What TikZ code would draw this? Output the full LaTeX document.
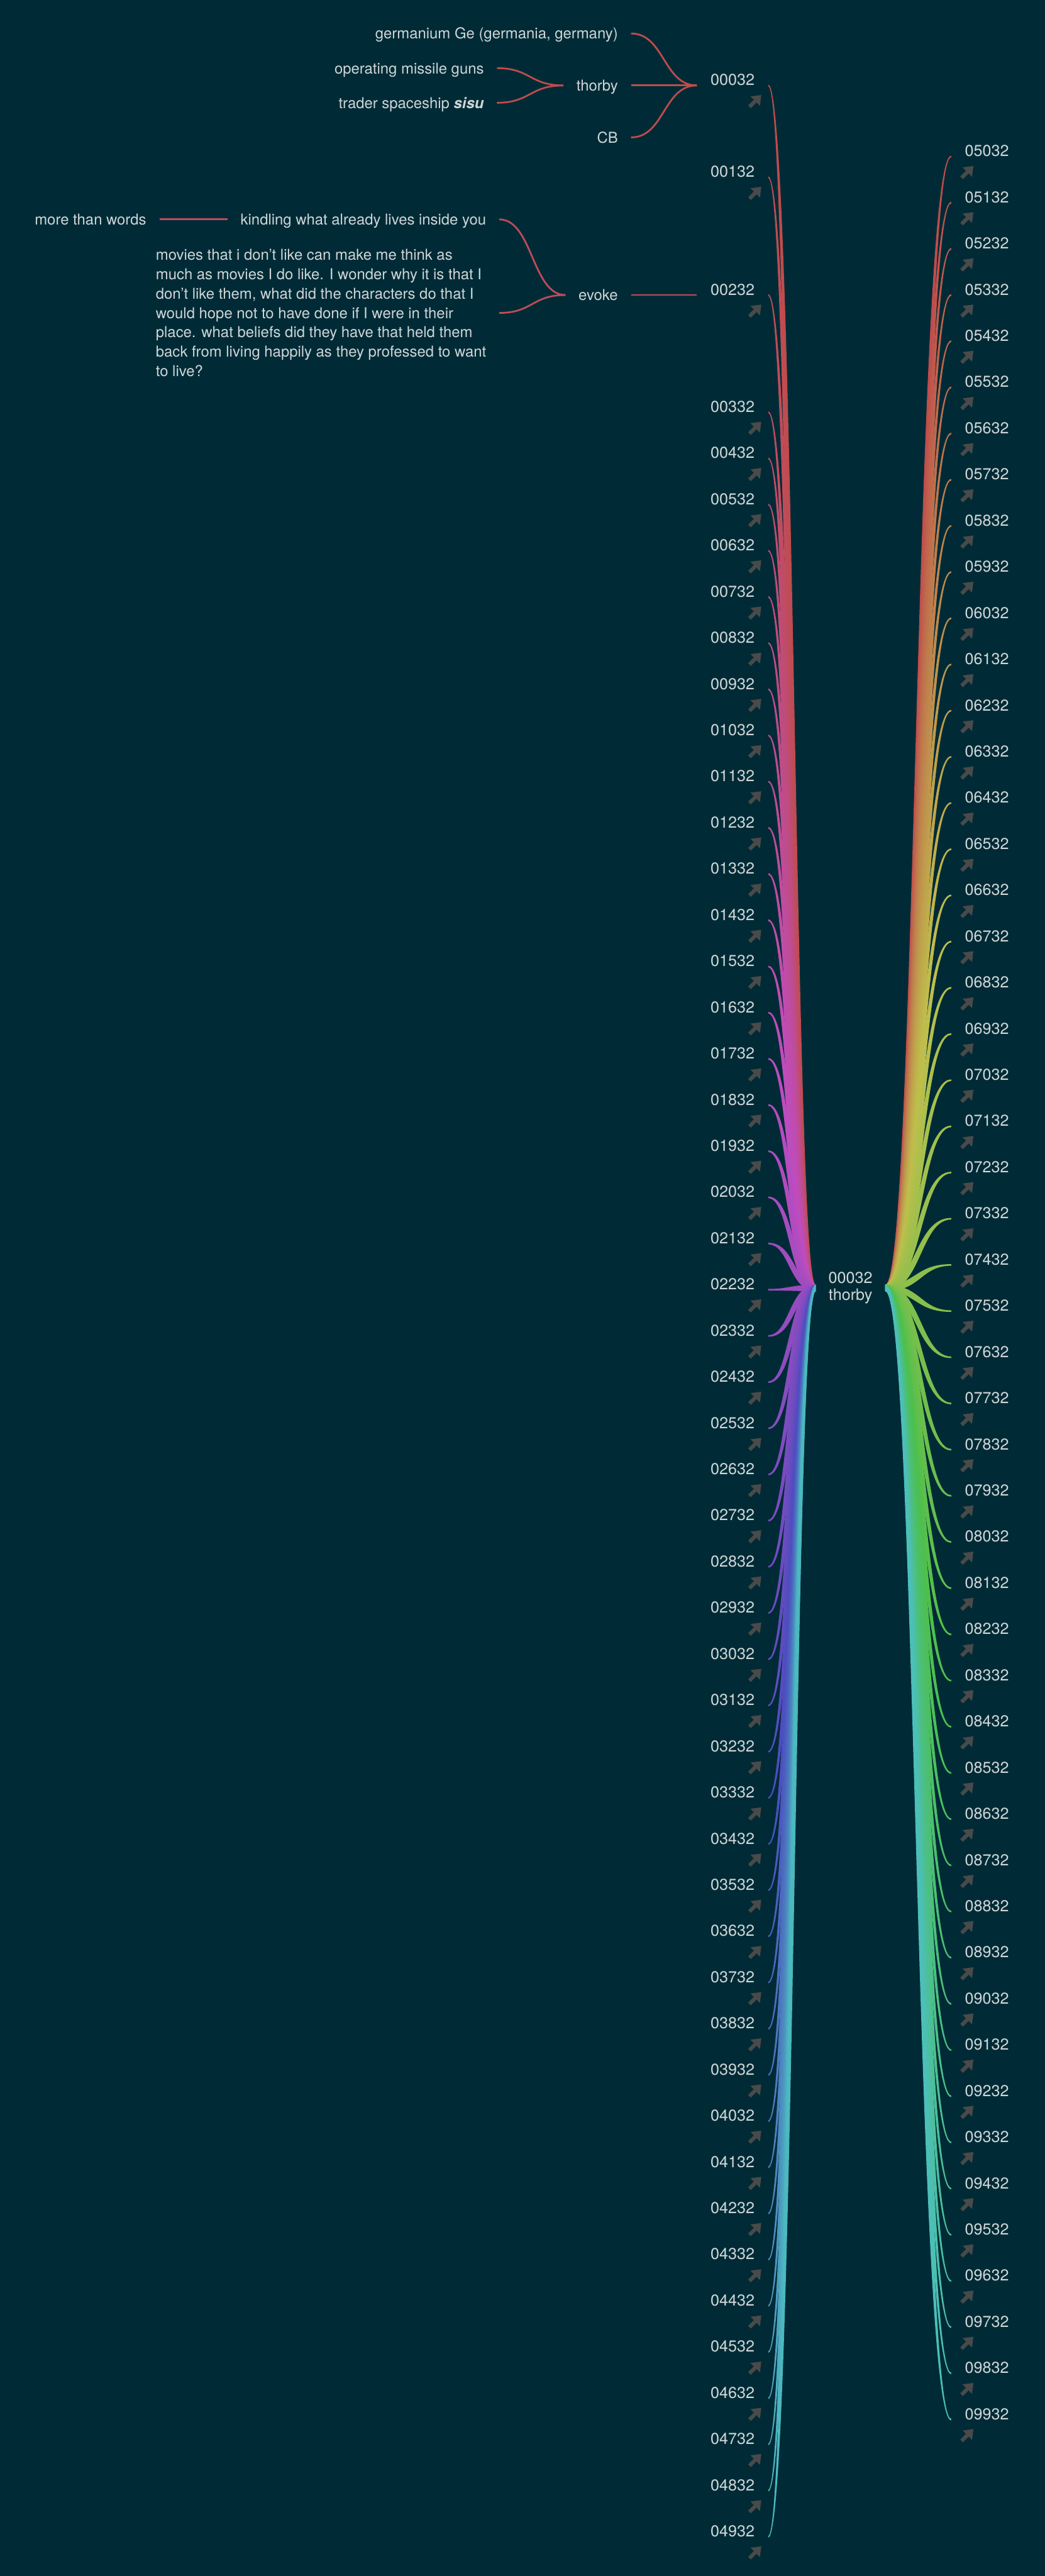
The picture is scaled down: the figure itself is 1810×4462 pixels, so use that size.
\documentclass[tikz,border=0pt]{standalone}
\usepackage{fontspec}
\setmainfont{TeX Gyre Heros}
\usepackage{tikz}
\usetikzlibrary{arrows.meta, positioning}
\definecolor{bgteal}{HTML}{002B36}
\definecolor{ink}{HTML}{CFD6D8}
\definecolor{icongray}{HTML}{4A4A4A}
\definecolor{twigred}{Hsb}{0,0.6,0.75}
\definecolor{twigrose}{Hsb}{352.8,0.6,0.75}
\pgfdeclarelayer{background}
\pgfdeclarelayer{edges}
\pgfsetlayers{background,edges,main}
\tikzset{
  hubnode/.style={rectangle, fill=bgteal, rounded corners=0.08cm, minimum width=1.19cm,
                  minimum height=0.62cm, inner sep=0pt, align=center, text=ink,
                  font=\fontsize{7.8}{8.3}\selectfont},
  leaf/.style={inner xsep=0.23cm, inner ysep=0pt, text=ink,
               font=\fontsize{7.8}{9}\selectfont},
  topic/.style={inner xsep=0.22cm, inner ysep=0pt, text height=0.19cm, text depth=0pt,
                text=ink, font=\fontsize{7.4}{9}\selectfont},
  note/.style={inner xsep=0.22cm, inner ysep=0pt, align=left, text=ink,
               font=\fontsize{7.4}{9.55}\selectfont},
  twig/.style={line width=0.03cm, out=0, in=180, distance=0.58cm},
  icon/.style={draw=icongray, line width=0.065cm, -{Triangle[length=0.15cm, width=0.22cm]}},
  linkicon/.pic={\draw[icon] (-9.5,10.5) -- (11,-10);},
}

\begin{document}
\begin{tikzpicture}[x=0.01cm, y=-0.01cm]
  \useasboundingbox (0,0) rectangle (1810,4462);
  \begin{pgfonlayer}{background}
    \fill[bgteal] (0,0) rectangle (1810,4462);
  \end{pgfonlayer}

  \node[hubnode] (hub) at (1473.5,2231) {00032\\thorby};

  \foreach \i in {0,...,49}{
    \pgfmathtruncatemacro{\y}{\i==0 ? 148 : (\i==1 ? 307 : (\i==2 ? 511 : 474+80*\i))}
    \pgfmathsetmacro{\sg}{\y<2231 ? -1 : 1}
    \pgfmathsetmacro{\hue}{mod(360-3.6*\i,360)}
    \definecolor{br}{Hsb}{\hue,0.6,0.75}
    \node[leaf, anchor=base east] (lbl\i) at (1331,\y) {0\ifnum\i<10 0\fi\i32};
    \pic at ([shift={(-23,26.5)}]lbl\i.base east) {linkicon};
    \begin{pgfonlayer}{edges}
      \fill[br] ([shift={(0,-5.5)}]hub.west)
        .. controls ([shift={(-41.5-4.5*\sg,-5.5)}]hub.west)
                and ([shift={(41.5-4.5*\sg,-1.4)}]lbl\i.base east)
        .. ([shift={(0,-1.4)}]lbl\i.base east)
        -- ([shift={(0,1.4)}]lbl\i.base east)
        .. controls ([shift={(41.5+4.5*\sg,1.4)}]lbl\i.base east)
                and ([shift={(-41.5+4.5*\sg,5.5)}]hub.west)
        .. ([shift={(0,5.5)}]hub.west) -- cycle;
    \end{pgfonlayer}
  }

  \foreach \i in {50,...,99}{
    \pgfmathtruncatemacro{\y}{80*\i-3729}
    \pgfmathsetmacro{\sg}{\y<2231 ? -1 : 1}
    \pgfmathsetmacro{\hue}{3.6*(\i-50)}
    \definecolor{br}{Hsb}{\hue,0.6,0.75}
    \node[leaf, anchor=base west] (lbl\i) at (1648,\y) {0\i32};
    \pic at ([shift={(27.5,26.5)}]lbl\i.base west) {linkicon};
    \begin{pgfonlayer}{edges}
      \fill[br] ([shift={(0,-5.5)}]hub.east)
        .. controls ([shift={(57.5+4.5*\sg,-5.5)}]hub.east)
                and ([shift={(-57.5+4.5*\sg,-1.4)}]lbl\i.base west)
        .. ([shift={(0,-1.4)}]lbl\i.base west)
        -- ([shift={(0,1.4)}]lbl\i.base west)
        .. controls ([shift={(-57.5-4.5*\sg,1.4)}]lbl\i.base west)
                and ([shift={(57.5-4.5*\sg,5.5)}]hub.east)
        .. ([shift={(0,5.5)}]hub.east) -- cycle;
    \end{pgfonlayer}
  }

  \node[topic, left=1.14cm of lbl0.base west] (thorby) {thorby};
  \node[topic, anchor=east] (germ) at ([shift={(0,-90)}]thorby.east) {germanium Ge (germania, germany)};
  \node[topic, anchor=east] (cb) at ([shift={(0,90)}]thorby.east) {CB};
  \node[topic, anchor=east] (guns) at (861,118) {operating missile guns};
  \node[topic, anchor=east] (sisu) at (861,178) {trader spaceship \textbf{\textit{sisu}}};

  \node[topic, left=1.14cm of lbl2.base west] (evoke) {evoke};
  \node[topic, anchor=east] (kindle) at (865,380) {kindling what already lives inside you};
  \node[topic, left=1.18cm of kindle] (words) {more than words};
  \node[note, anchor=east] (movies) at (865,542)
    {movies that i don't like can make me think as\\
     much as movies I do like. I wonder why it is that I\\
     don't like them, what did the characters do that I\\
     would hope not to have done if I were in their\\
     place. what beliefs did they have that held them\\
     back from living happily as they professed to want\\
     to live?};

  \draw[twig, twigred] (thorby.east) -- (lbl0.base west);
  \draw[twig, twigred] (germ.east) to (lbl0.base west);
  \draw[twig, twigred] (cb.east) to (lbl0.base west);
  \draw[twig, twigred] (guns.east) to (thorby.west);
  \draw[twig, twigred] (sisu.east) to (thorby.west);

  \draw[twig, twigrose] (evoke.east) -- (lbl2.base west);
  \draw[twig, twigrose] (kindle.east) to (evoke.west);
  \draw[twig, twigrose] (movies.east) to (evoke.west);
  \draw[twig, twigrose] (words.east) -- (kindle.west);
\end{tikzpicture}
\end{document}
